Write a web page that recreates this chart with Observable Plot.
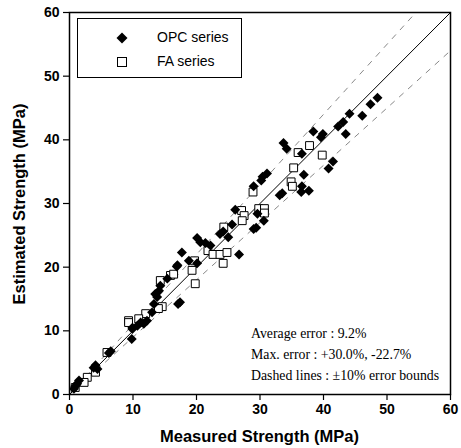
<!DOCTYPE html>
<html><head><meta charset="utf-8">
<script src="https://cdn.jsdelivr.net/npm/d3@7"></script>
<script src="https://cdn.jsdelivr.net/npm/@observablehq/plot@0.6"></script>
<style>
body{margin:0;background:#fff;}
#wrap{position:relative;width:461px;height:448px;font-family:"Liberation Sans",Arial,sans-serif;color:#000;}
#legend{position:absolute;left:77px;top:18px;width:165px;height:60px;border:1.5px solid #000;box-sizing:border-box;background:#fff;}
.lrow{position:absolute;left:0;font-size:14px;white-space:nowrap;}
.lrow svg{position:absolute;top:0;}
.lrow span{position:absolute;left:79px;top:-9px;}
#note{position:absolute;left:251px;top:323px;font-family:"Liberation Serif","Times New Roman",serif;font-size:13.8px;line-height:21px;white-space:nowrap;}
#xlabel{position:absolute;left:69px;width:381px;top:427px;text-align:center;font-weight:bold;font-size:16.5px;}
#ylabel{position:absolute;left:19px;top:204px;transform:translate(-50%,-50%) rotate(-90deg);font-weight:bold;font-size:16.5px;white-space:nowrap;}
</style>
</head><body>
<div id="wrap"></div>
<script>
const opcX = [48.5,47.4,44.1,46.1,43.1,43.5,42.3,38.4,39.9,39.6,36.6,41.5,40.8,36.9,33.7,34.2,31.1,30.4,30.2,29.0,36.6,37.7,36.5,33.1,33.5,29.6,30.6,29.4,29.0,26.1,25.6,23.7,24.2,25.0,20.1,20.6,21.4,22.2,17.7,26.7,18.8,20.1,17.0,16.9,15.4,14.3,14.1,13.5,13.8,13.3,17.4,17.1,13.0,11.2,11.7,10.7,9.9,12.2,9.9,9.8,6.5,6.2,4.1,4.4,3.8,1.5,1.2,0.7,0.9];
const opcY = [46.6,45.6,44.1,43.8,42.8,40.9,42.1,41.3,40.9,40.4,37.8,36.6,35.5,34.5,39.5,38.6,34.7,34.2,33.6,32.7,32.7,32.0,31.8,31.3,31.6,28.4,27.3,26.2,26.0,29.0,26.7,25.2,25.6,24.7,24.6,23.9,23.8,23.4,22.3,22.0,21.0,20.6,20.3,20.1,18.2,17.1,16.3,15.8,15.3,14.2,14.5,14.2,12.9,11.3,11.1,10.8,10.5,11.6,10.3,8.7,6.8,6.5,4.6,4.0,4.2,2.2,1.7,0.9,1.3];
const faX = [37.8,39.8,36.0,35.3,34.9,35.1,28.9,29.8,30.7,30.7,27.1,27.5,27.2,24.3,21.8,22.6,23.7,24.8,24.2,19.7,19.3,19.8,15.9,16.4,14.3,14.6,12.0,10.9,9.3,9.3,5.9,4.1,2.8,2.3,0.9,14.0];
const faY = [39.1,37.6,38.0,35.6,33.4,32.7,31.8,29.2,29.2,28.5,28.9,28.1,27.3,26.3,22.6,22.0,22.0,22.3,20.6,21.0,19.5,17.4,18.7,18.9,17.9,13.8,12.7,11.9,11.6,11.3,6.6,3.5,2.7,1.9,1.1,13.5];
const axisTicks = [0,10,20,30,40,50,60];
const axisMax = 60;
const boundFactors = [1, 1.1, 0.9];
const seriesNames = ["OPC series","FA series"];
const notes = ["Average error : 9.2%","Max. error : +30.0%, -22.7%","Dashed lines : \u00b110% error bounds"];
const xTitle = "Measured Strength (MPa)";
const yTitle = "Estimated Strength (MPa)";

const opc = opcX.map((x,i)=>({x, y:opcY[i]}));
const fa = faX.map((x,i)=>({x, y:faY[i]}));
const refs = boundFactors.map(k=>({k, x2: Math.min(axisMax, axisMax/k), y2: Math.min(axisMax, axisMax*k)}));

const chart = Plot.plot({
  width:461, height:448,
  marginLeft:69, marginRight:11, marginTop:12, marginBottom:54,
  x:{domain:[0,axisMax]},
  y:{domain:[0,axisMax]},
  style:{fontFamily:"'Liberation Sans',Arial,sans-serif", color:"#000", background:"#fff"},
  marks:[
    Plot.link(refs.filter(d=>d.k!==1), {x1:()=>0, y1:()=>0, x2:"x2", y2:"y2", stroke:"#888", strokeWidth:1, strokeDasharray:"6,6"}),
    Plot.link(refs.filter(d=>d.k===1), {x1:()=>0, y1:()=>0, x2:"x2", y2:"y2", stroke:"#000", strokeWidth:1}),
    Plot.dot(fa, {x:"x", y:"y", symbol:"square2", stroke:"#000", strokeWidth:1, fill:"#fff", r:5}),
    Plot.dot(opc, {x:"x", y:"y", symbol:"diamond2", fill:"#000", stroke:"none", r:4.5}),
    Plot.frame({stroke:"#000", strokeWidth:1.5}),
    Plot.axisX({ticks:axisTicks, tickSize:6, tickPadding:4, fontSize:14, fontWeight:"bold", label:null, strokeWidth:1.2}),
    Plot.axisY({ticks:axisTicks, tickSize:6, tickPadding:4, fontSize:14, fontWeight:"bold", label:null, strokeWidth:1.2})
  ]
});

const wrap = document.getElementById("wrap");
wrap.appendChild(chart);

const legend = document.createElement("div");
legend.id = "legend";
const symDiamond = '<svg width="12" height="12" style="left:38px;top:-6px"><path d="M6,0.5L11.5,6L6,11.5L0.5,6Z" fill="#000"/></svg>';
const symSquare = '<svg width="12" height="12" style="left:38px;top:-6px"><rect x="1.5" y="1.5" width="9" height="9" fill="#fff" stroke="#000" stroke-width="1"/></svg>';
legend.innerHTML =
  `<div class="lrow" style="top:19px">${symDiamond}<span>${seriesNames[0]}</span></div>` +
  `<div class="lrow" style="top:43px">${symSquare}<span>${seriesNames[1]}</span></div>`;
wrap.appendChild(legend);

const note = document.createElement("div");
note.id = "note";
note.innerHTML = notes.map(t=>`<div>${t}</div>`).join("");
wrap.appendChild(note);

const xl = document.createElement("div"); xl.id="xlabel"; xl.textContent = xTitle; wrap.appendChild(xl);
const yl = document.createElement("div"); yl.id="ylabel"; yl.textContent = yTitle; wrap.appendChild(yl);
</script>
</body></html>
